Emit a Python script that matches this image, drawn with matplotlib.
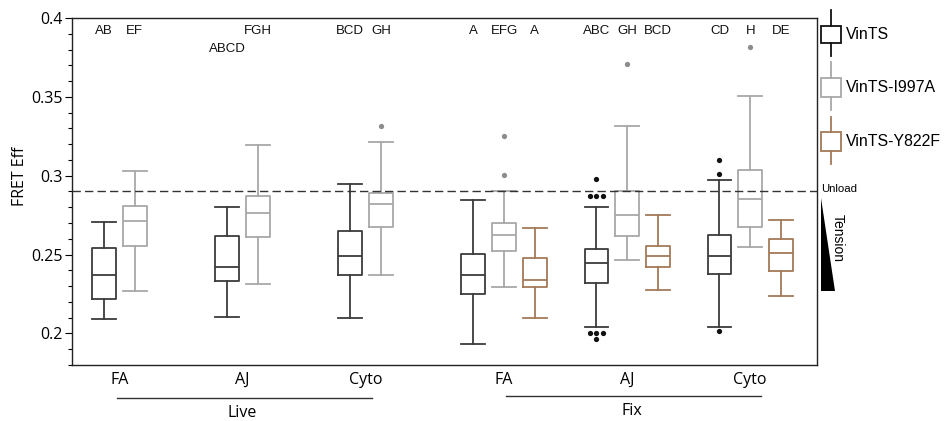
import numpy as np
import matplotlib
matplotlib.use("Agg")
import matplotlib.pyplot as plt
from matplotlib.patches import Rectangle, Polygon
from matplotlib.lines import Line2D
from matplotlib.ticker import MultipleLocator, FixedFormatter, FixedLocator
import matplotlib.transforms as mtransforms

# five-number summaries: lower whisker, Q1, median, Q3, upper whisker
live_vints = [[0.2091, 0.2218, 0.2370, 0.2539, 0.2708],
              [0.2105, 0.2332, 0.2421, 0.2617, 0.2799],
              [0.2099, 0.2370, 0.2488, 0.2651, 0.2947]]
live_i997a = [[0.2268, 0.2554, 0.2714, 0.2807, 0.3030],
              [0.2313, 0.2611, 0.2765, 0.2869, 0.3192],
              [0.2370, 0.2672, 0.2820, 0.2892, 0.3213]]
fix_vints = [[0.1934, 0.2251, 0.2370, 0.2505, 0.2843],
             [0.2040, 0.2321, 0.2448, 0.2537, 0.2799],
             [0.2040, 0.2378, 0.2488, 0.2624, 0.2974]]
fix_i997a = [[0.2294, 0.2524, 0.2624, 0.2700, 0.2903],
             [0.2463, 0.2617, 0.2748, 0.2903, 0.3317],
             [0.2545, 0.2672, 0.2850, 0.3038, 0.3507]]
fix_y822f = [[0.2099, 0.2292, 0.2342, 0.2476, 0.2670],
             [0.2275, 0.2421, 0.2490, 0.2554, 0.2750],
             [0.2237, 0.2397, 0.2509, 0.2598, 0.2719]]

# outliers per box
live_vints_out = [[], [], []]
live_i997a_out = [[], [], [0.3317]]
fix_vints_out = [[], [0.2981, 0.2871, 0.2871, 0.2871, 0.2004, 0.2004, 0.2004, 0.1962],
                 [0.3097, 0.3012, 0.2015]]
fix_i997a_out = [[0.3252, 0.3002], [0.3708], [0.3818]]
fix_y822f_out = [[], [], []]

sites = ["FA", "AJ", "Cyto"]
live_letters = [["AB", "EF"], ["ABCD", "FGH"], ["BCD", "GH"]]
fix_letters = [["A", "EFG", "A"], ["ABC", "GH", "BCD"], ["CD", "H", "DE"]]
series_names = ["VinTS", "VinTS-I997A", "VinTS-Y822F"]
unload_level = 0.29

colors = ["#3c3c3c", "#a8a8a8", "#a27a58"]
flier_colors = ["#111111", "#8c8c8c", "#a27a58"]

ARIAL = "Liberation Sans"
SEGOE = "Open Sans"

fig = plt.figure(figsize=(9.46, 4.21), dpi=100)
ax = fig.add_axes([72 / 946, 1 - 365 / 421, 745 / 946, 347 / 421])

width = 0.77


def draw_box(pos, stats, fliers, k):
    st = dict(whislo=stats[0], q1=stats[1], med=stats[2], q3=stats[3],
              whishi=stats[4], fliers=[])
    c = colors[k]
    ax.bxp([st], positions=[pos], widths=width, showfliers=False,
           boxprops=dict(color=c, lw=1.3),
           medianprops=dict(color=c, lw=1.3),
           whiskerprops=dict(color=c, lw=1.3),
           capprops=dict(color=c, lw=1.3),
           capwidths=width)
    # spread repeated outlier values sideways
    vals, counts = np.unique(np.round(fliers, 4), return_counts=True)
    for v, n in zip(vals, counts):
        xs = pos + (np.arange(n) - (n - 1) / 2) * 0.2
        ax.plot(xs, [v] * n, 'o', color=flier_colors[k], ms=3.8, mew=0)


live_pos = []
fix_pos = []
for g in range(3):
    for k, (st, fl) in enumerate([(live_vints, live_vints_out), (live_i997a, live_i997a_out)]):
        p = 4 * g + k
        draw_box(p, st[g], fl[g], k)
        ax.text(p, 0.3918 if not (g == 1 and k == 0) else 0.3803, live_letters[g][k],
                ha='center', va='center', fontsize=9.5, family=ARIAL, color='#111111')
    live_pos.append(4 * g + 0.5)
    for k, (st, fl) in enumerate([(fix_vints, fix_vints_out), (fix_i997a, fix_i997a_out),
                                  (fix_y822f, fix_y822f_out)]):
        p = 12 + 4 * g + k
        draw_box(p, st[g], fl[g], k)
        ax.text(p, 0.3918, fix_letters[g][k], ha='center', va='center',
                fontsize=9.5, family=ARIAL, color='#111111')
    fix_pos.append(12 + 4 * g + 1)

ax.axhline(unload_level, color='#333333', lw=1, ls=(0, (6, 3)))

ax.set_xlim(-1.04, 23.17)
ax.set_ylim(0.18, 0.4)
ax.yaxis.set_major_locator(FixedLocator([0.2, 0.25, 0.3, 0.35, 0.4]))
ax.yaxis.set_major_formatter(FixedFormatter(["0.2", "0.25", "0.3", "0.35", "0.4"]))
ax.yaxis.set_minor_locator(MultipleLocator(0.01))
ax.tick_params(axis='y', which='major', length=5, width=0.8, labelsize=11.5, pad=1.5)
ax.tick_params(axis='y', which='minor', length=3, width=0.8)
for lab in ax.get_yticklabels():
    lab.set_family(SEGOE)
ax.set_xticks(live_pos + fix_pos)
ax.set_xticklabels(sites + sites, family=SEGOE, fontsize=11.5)
ax.tick_params(axis='x', length=0, pad=5)
for s in ax.spines.values():
    s.set_linewidth(1.0)
    s.set_color('#222222')

fig.text(20 / 946, 1 - 176 / 421, "FRET Eff", rotation=90, ha='center', va='center',
         family=SEGOE, fontsize=11.5)

# Live / Fix brackets under the site labels
trans = mtransforms.blended_transform_factory(ax.transData, ax.transAxes)
ax.plot([0.42, 8.71], [-0.094, -0.094], color='#333333', lw=1, transform=trans, clip_on=False)
ax.plot([13.06, 21.35], [-0.088, -0.088], color='#333333', lw=1, transform=trans, clip_on=False)
ax.text(4.48, -0.138, "Live", transform=trans, ha='center', va='center', family=SEGOE, fontsize=11.5)
ax.text(17.16, -0.133, "Fix", transform=trans, ha='center', va='center', family=SEGOE, fontsize=11.5)

# legend and tension wedge drawn in pixel space of the figure
ov = fig.add_axes([0, 0, 1, 1], facecolor='none')
ov.set_xlim(0, 946)
ov.set_ylim(421, 0)
ov.axis('off')
legend_spans = [(10, 25.7, 42.7, 56), (62, 77.7, 97.3, 110), (117, 131.7, 150.7, 164)]
for k, (y0, b0, b1, y1) in enumerate(legend_spans):
    c = '#111111' if k == 0 else colors[k]
    ov.add_line(Line2D([830.7, 830.7], [y0, b0], color=c, lw=1.3))
    ov.add_line(Line2D([830.7, 830.7], [b1, y1], color=c, lw=1.3))
    ov.add_patch(Rectangle((821, b0), 19.5, b1 - b0, fill=False, ec=c, lw=1.3))
    ov.text(846, (b0 + b1) / 2, series_names[k], ha='left', va='center',
            family=ARIAL, fontsize=11.4)

ov.text(821.5, 188.5, "Unload", ha='left', va='center', family=ARIAL, fontsize=8.2)
ov.add_patch(Polygon([[821, 198], [821, 291], [835, 291]], closed=True, fc='black', ec='none'))
ov.text(838, 238, "Tension", rotation=-90, ha='center', va='center', family=ARIAL, fontsize=10)

fig.savefig("out.png", dpi=100)
